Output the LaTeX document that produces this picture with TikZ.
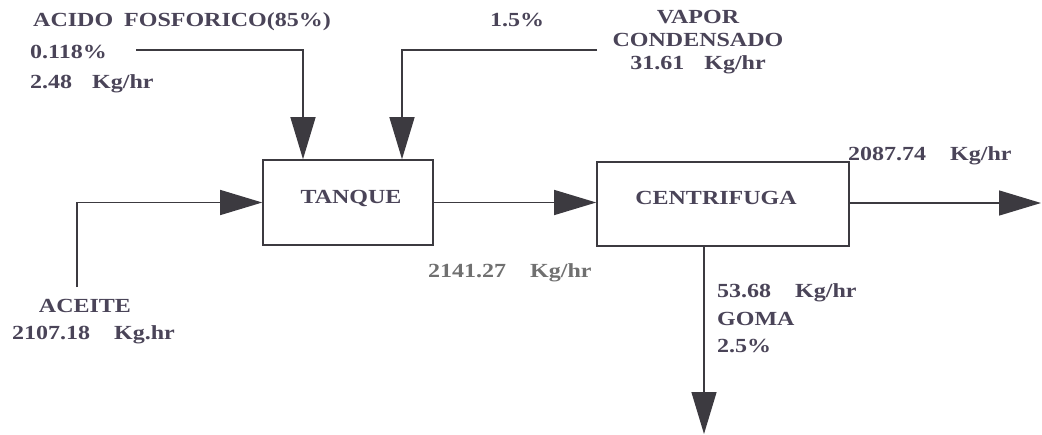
\documentclass[tikz,border=0pt]{standalone}
\usepackage{fontspec}
\setmainfont{Liberation Serif}[FakeStretch=1.2]
\usetikzlibrary{arrows.meta}
\definecolor{ink}{HTML}{4A4458}
\definecolor{lineink}{HTML}{3C3A40}
\definecolor{grayink}{HTML}{707070}
\newcommand{\gapA}{\hspace{1em}}
\newcommand{\gapB}{\hspace{1.2em}}
\tikzset{
  lbl/.style={text=ink, inner sep=0pt, font=\fontsize{20}{23}\selectfont\bfseries},
  unit/.style={draw=lineink, line width=1.6pt, rectangle, inner sep=0pt},
  flow/.style={draw=lineink, line width=1.4pt, -{Triangle[length=42pt,width=25pt]}},
}
\begin{document}
\begin{tikzpicture}[x=1pt,y=-1pt]
\useasboundingbox[fill=white] (0,0) rectangle (1042,434);
% units
\node[unit, minimum width=170pt, minimum height=85pt] (tanque) at (348,202.5) {};
\node[lbl] (tanqueT) at (351,198) {TANQUE};
\node[unit, minimum width=252pt, minimum height=84pt] (centri) at (723,204) {};
\node[lbl] (centriT) at (716,198) {CENTRIFUGA};
% free ends
\coordinate (a0) at (136,50);
\coordinate (v0) at (597,50);
\coordinate (c0) at (77,287);
\coordinate (o1) at (1041,203);
\coordinate (o2) at (704,434);
% connectors
\draw[flow] (a0) -| ([xshift=-45pt]tanque.north);
\draw[flow] (v0) -| ([xshift=54pt]tanque.north);
\draw[flow] (c0) |- (tanque.west);
\draw[flow] (tanque.east) -- (centri.west |- tanque.east);
\draw[flow] (centri.east |- o1) -- (o1);
\draw[flow] (centri.south -| o2) -- (o2);
% labels
\node[lbl, anchor=west] (acidoT) at (33,22) {ACIDO\hspace{0.55em}FOSFORICO(85\%)};
\node[lbl, anchor=west] (acidoP) at (30,52) {0.118\%};
\node[lbl, anchor=west] (acidoF) at (30,84) {2.48\gapA Kg/hr};
\node[lbl] (vaporP) at (517,20) {1.5\%};
\node[lbl, align=center] (vaporT) at (698,42) {VAPOR\\CONDENSADO\\31.61\gapA Kg/hr};
\node[lbl, anchor=west] (outF) at (848,156) {2087.74\gapB Kg/hr};
\node[lbl, anchor=west, text=grayink] (midF) at (428,273) {2141.27\gapB Kg/hr};
\node[lbl] (aceiteT) at (85,306) {ACEITE};
\node[lbl, anchor=west] (aceiteF) at (12,335) {2107.18\gapB Kg.hr};
\node[lbl, anchor=west] (gomaF) at (717,293) {53.68\gapB Kg/hr};
\node[lbl, anchor=west] (gomaT) at (717,319) {GOMA};
\node[lbl, anchor=west] (gomaP) at (717,346) {2.5\%};
\end{tikzpicture}
\end{document}
